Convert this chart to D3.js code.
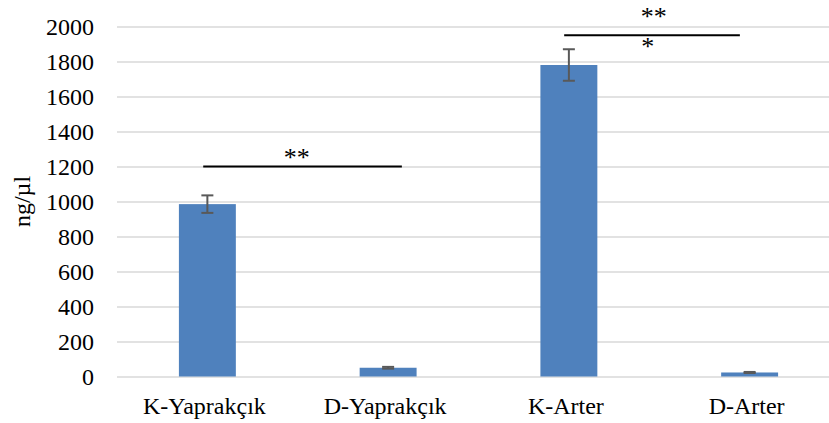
<!DOCTYPE html>
<html>
<head>
<meta charset="utf-8">
<script src="https://cdn.jsdelivr.net/npm/d3@7"></script>
<style>
  body { margin: 0; background: #fff; }
</style>
</head>
<body>
<script>
// data
var categories = ["K-Yaprakçık", "D-Yaprakçık", "K-Arter", "D-Arter"];
var means = [985, 50, 1780, 23];
var errors = [50, 5, 90, 3];
var yTicks = [0, 200, 400, 600, 800, 1000, 1200, 1400, 1600, 1800, 2000];

// significance brackets: from/to in category index units, y in data units
var sigLines = [
  {from: -0.023, to: 1.076, value: 1200},
  {from: 1.974, to: 2.946, value: 1950}
];
var sigLabels = [
  {text: "**", pos: 0.494, value: 1205},
  {text: "**", pos: 2.47, value: 2010},
  {text: "*", pos: 2.437, value: 1838}
];

var FONT = "'Liberation Serif', 'Times New Roman', Times, serif";

var W = 829, H = 423;
var margin = {top: 26.5, left: 117},
    plotW = 723,
    plotH = 350;

var svg = d3.select("body").append("svg")
    .attr("width", W)
    .attr("height", H)
    .style("font-family", FONT);

var g = svg.append("g")
    .attr("transform", "translate(" + margin.left + "," + margin.top + ")");

var x = d3.scaleBand()
    .domain(categories)
    .range([0, plotW])
    .paddingInner(0.685)
    .paddingOuter(0.3425);

var step = x.step();
// fractional category position -> pixel centre
var pos = d3.scaleLinear().domain([0, 1]).range([step / 2, step * 1.5]);

var y = d3.scaleLinear().domain([0, 2000]).range([plotH, 0]);

// gridlines
g.append("g")
    .attr("class", "grid")
    .call(d3.axisLeft(y).tickValues(yTicks).tickSize(-plotW).tickFormat(""))
    .call(function(s) {
      s.select(".domain").remove();
      s.selectAll("line").attr("stroke", "#d9d9d9").attr("stroke-width", 1.5);
    });

// y tick labels
g.append("g")
    .call(d3.axisLeft(y).tickValues(yTicks).tickFormat(d3.format("d")).tickSize(0).tickPadding(23))
    .call(function(s) {
      s.select(".domain").remove();
      s.attr("font-family", null).attr("font-size", null);
      s.selectAll("text")
        .style("font-family", FONT)
        .style("font-size", "24px")
        .attr("fill", "#000");
    });

// y title
svg.append("text")
    .attr("transform", "translate(30," + (margin.top + y(1000)) + ") rotate(-90)")
    .attr("text-anchor", "middle")
    .style("font-family", FONT)
    .style("font-size", "24px")
    .text("ng/µl");

// bars
g.selectAll(".bar")
    .data(categories)
    .enter().append("rect")
    .attr("class", "bar")
    .attr("x", function(d) { return x(d); })
    .attr("width", x.bandwidth())
    .attr("y", function(d, i) { return y(means[i]); })
    .attr("height", function(d, i) { return plotH - y(means[i]); })
    .attr("fill", "#4f81bd");

// error bars
var err = g.selectAll(".err")
    .data(categories)
    .enter().append("g")
    .attr("class", "err")
    .attr("stroke", "#595959")
    .attr("stroke-width", 2);

err.append("line")
    .attr("x1", function(d) { return x(d) + x.bandwidth() / 2; })
    .attr("x2", function(d) { return x(d) + x.bandwidth() / 2; })
    .attr("y1", function(d, i) { return y(means[i] + errors[i]); })
    .attr("y2", function(d, i) { return y(means[i] - errors[i]); });

[1, -1].forEach(function(sign) {
  err.append("line")
      .attr("x1", function(d) { return x(d) + x.bandwidth() / 2 - 6; })
      .attr("x2", function(d) { return x(d) + x.bandwidth() / 2 + 6; })
      .attr("y1", function(d, i) { return y(means[i] + sign * errors[i]); })
      .attr("y2", function(d, i) { return y(means[i] + sign * errors[i]); });
});

// category labels
g.selectAll(".cat")
    .data(categories)
    .enter().append("text")
    .attr("class", "cat")
    .attr("x", function(d) { return x(d) + x.bandwidth() / 2 - 3; })
    .attr("y", plotH + 37)
    .attr("text-anchor", "middle")
    .style("font-family", FONT)
    .style("font-size", "24px")
    .text(function(d) { return d; });

// significance lines
g.selectAll(".sig")
    .data(sigLines)
    .enter().append("line")
    .attr("class", "sig")
    .attr("x1", function(d) { return pos(d.from); })
    .attr("x2", function(d) { return pos(d.to); })
    .attr("y1", function(d) { return y(d.value); })
    .attr("y2", function(d) { return y(d.value); })
    .attr("stroke", "#000")
    .attr("stroke-width", 2);

g.selectAll(".sigText")
    .data(sigLabels)
    .enter().append("text")
    .attr("class", "sigText")
    .attr("x", function(d) { return pos(d.pos); })
    .attr("y", function(d) { return y(d.value); })
    .attr("text-anchor", "middle")
    .style("font-family", FONT)
    .style("font-size", "26px")
    .text(function(d) { return d.text; });
</script>
</body>
</html>
